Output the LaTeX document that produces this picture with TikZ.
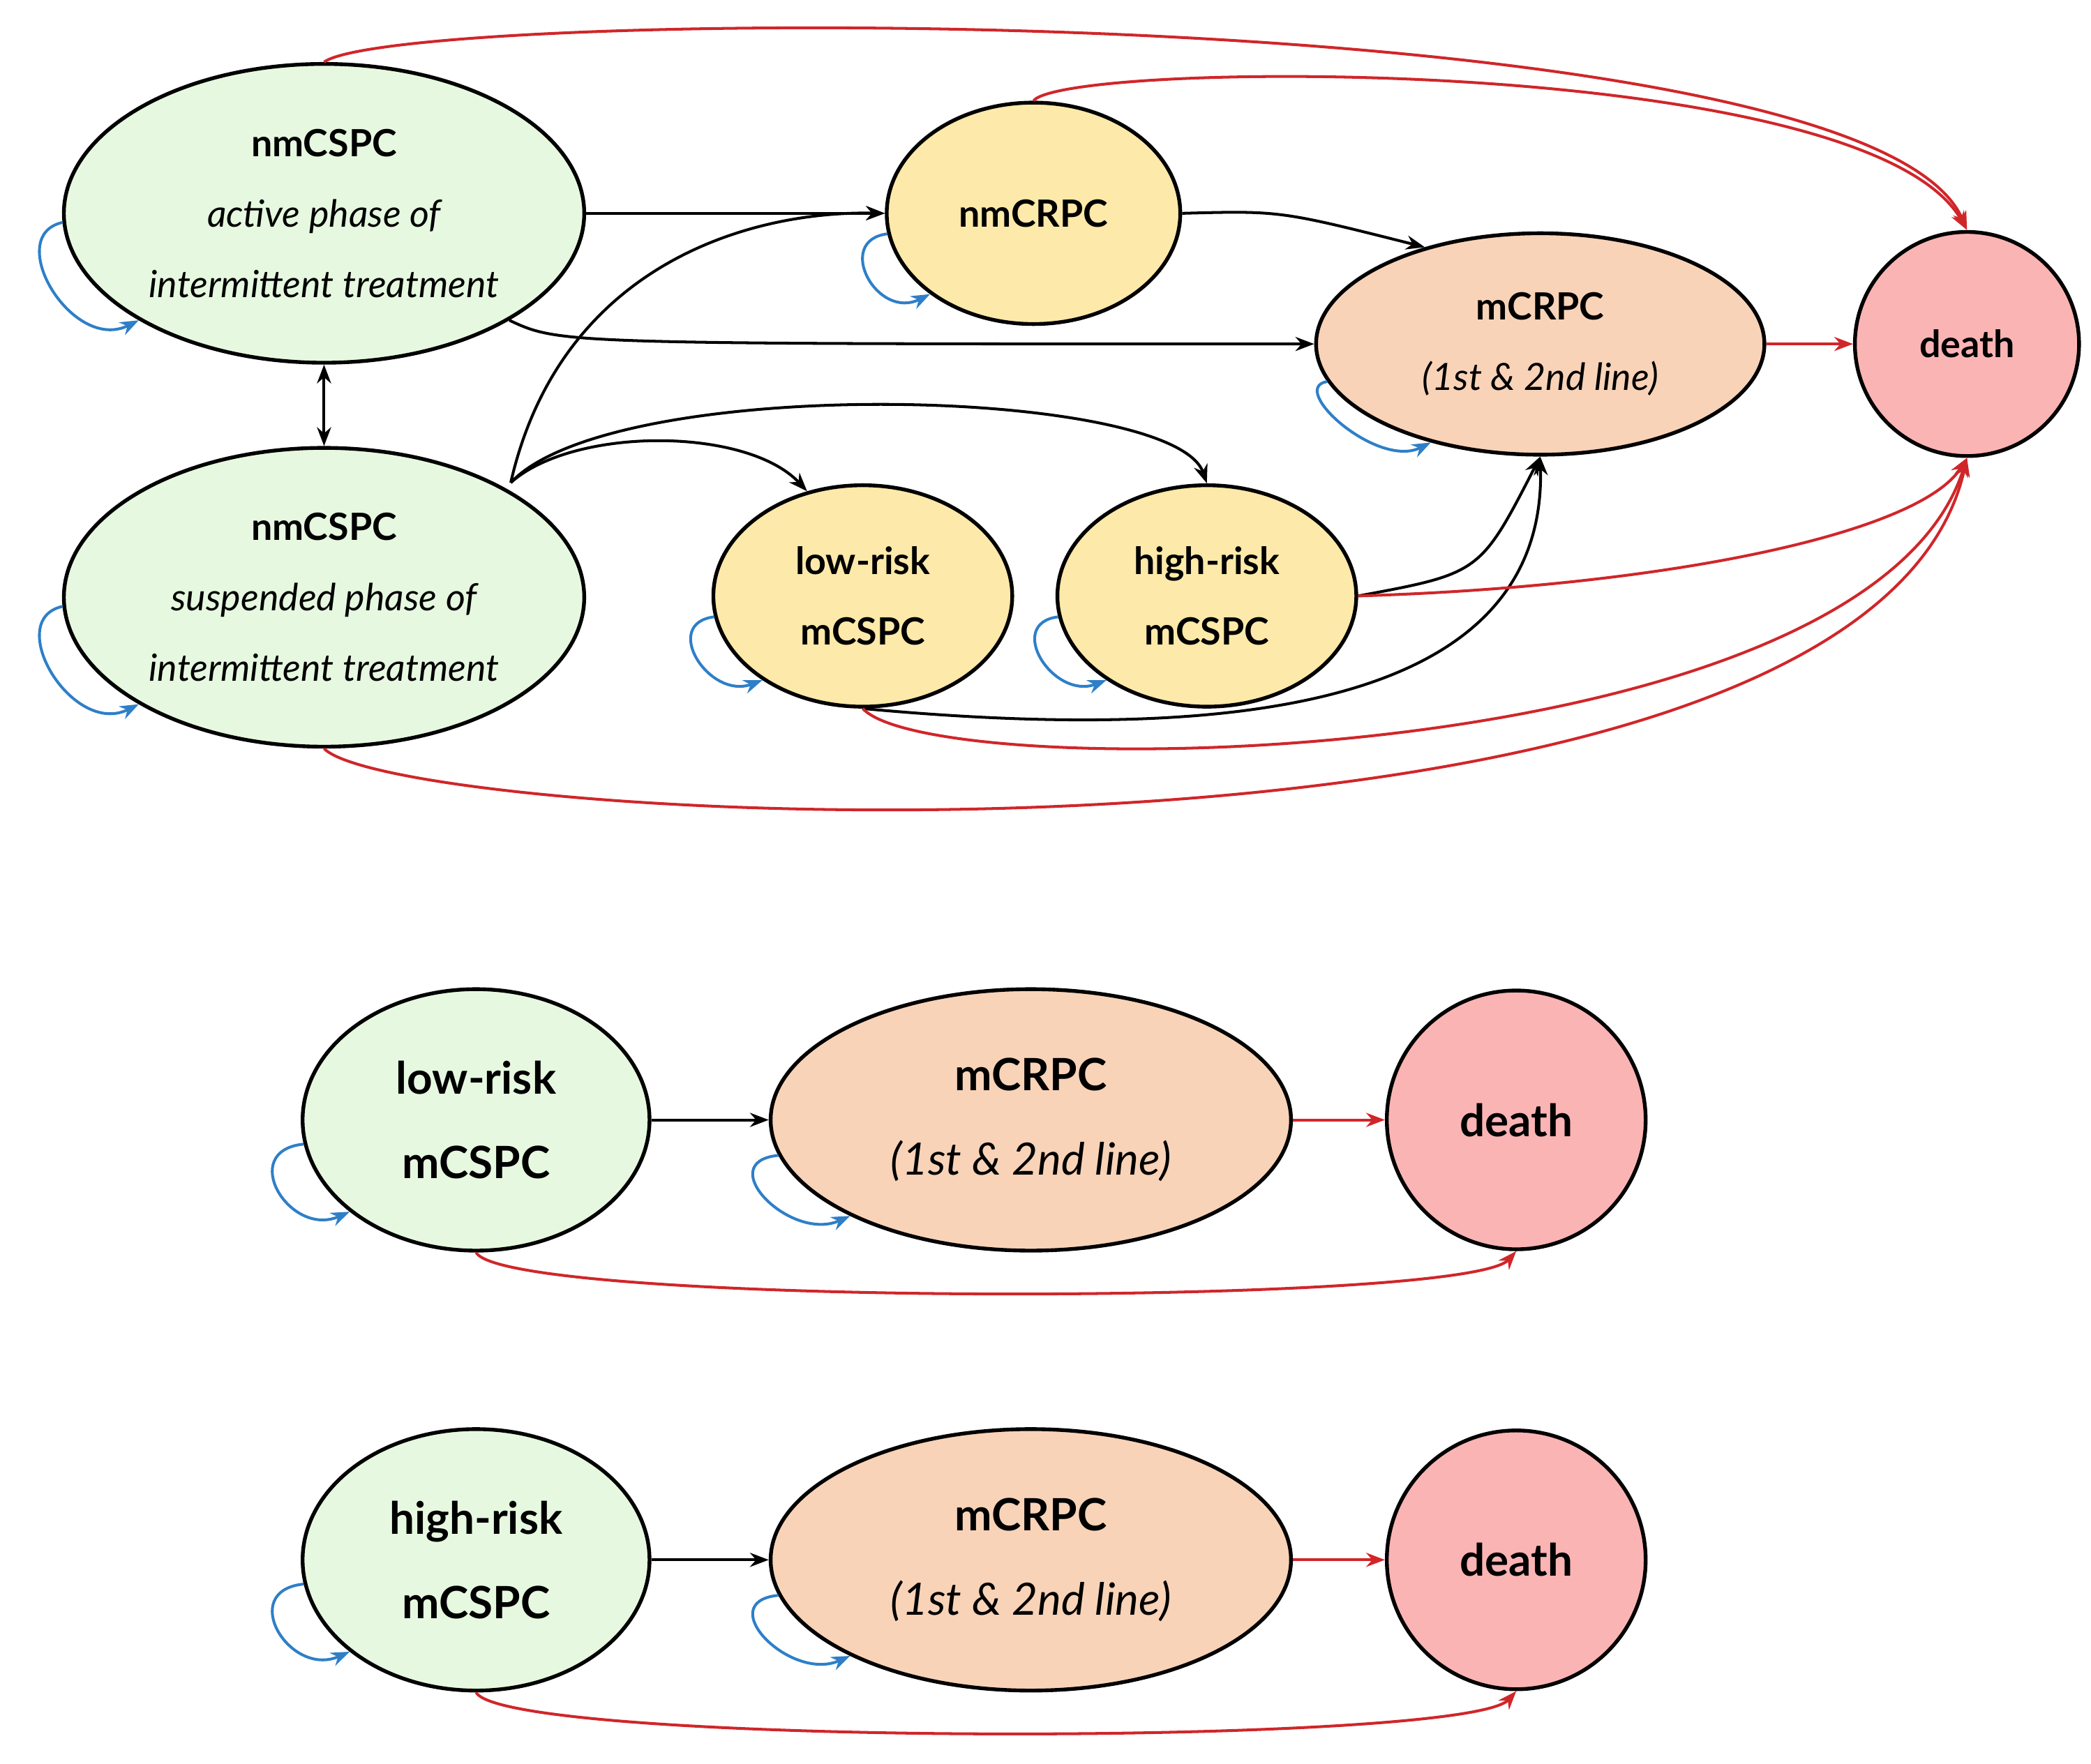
\documentclass[tikz,border=0pt]{standalone}
\usepackage{fontspec}
\setmainfont{Lato}
\usetikzlibrary{shapes.geometric,arrows.meta}
\definecolor{gr}{HTML}{E6F9E0}
\definecolor{ye}{HTML}{FDE9A9}
\definecolor{or}{HTML}{F8D3B8}
\definecolor{rd}{HTML}{FBB4B4}
\definecolor{bl}{HTML}{2E7FC8}
\definecolor{dr}{HTML}{D0262A}
\begin{document}
\begin{tikzpicture}[x=0.01cm,y=-0.01cm,
 st/.style={ellipse,draw,line width=0.8pt,inner sep=0pt,align=center,font=\bfseries\fontsize{8}{15}\selectfont},
 big/.style={font=\bfseries\fontsize{9.5}{18}\selectfont},
 e/.style={-{Stealth[length=4pt,width=3pt]},line width=0.6pt},
 rl/.style={e,dr},
 lp/.style={e,bl}]
\useasboundingbox (0,0) rectangle (1568,1323);
\node[st,fill=gr,minimum width=3.9cm,minimum height=2.24cm] (A) at (243,160) {nmCSPC\\\mdseries\itshape active phase of\\\mdseries\itshape intermittent treatment};
\node[st,fill=gr,minimum width=3.9cm,minimum height=2.24cm] (S) at (243,448) {nmCSPC\\\mdseries\itshape suspended phase of\\\mdseries\itshape intermittent treatment};
\node[st,fill=ye,minimum width=2.2cm,minimum height=1.66cm] (N) at (775,160) {nmCRPC};
\node[st,fill=or,minimum width=3.36cm,minimum height=1.66cm] (M) at (1155,258) {mCRPC\\\mdseries\itshape (1st \& 2nd line)};
\node[st,circle,fill=rd,minimum size=1.68cm] (D) at (1475,258) {death};
\node[st,fill=ye,minimum width=2.24cm,minimum height=1.66cm] (L) at (647,447) {low-risk\\mCSPC};
\node[st,fill=ye,minimum width=2.24cm,minimum height=1.66cm] (H) at (905,447) {high-risk\\mCSPC};

\draw[e] (A.east) -- (N.west);
\draw[e] (N.east) .. controls (960,158) .. (M.140);
\draw[e] (A.-30) .. controls (420,258) .. (M.west);
\draw[e,{Stealth[length=4pt,width=3pt]}-{Stealth[length=4pt,width=3pt]}] (A.south) -- (S.north);
\coordinate (s0) at (383,362);
\draw[e] (s0) .. controls (420,200) and (560,158) .. (N.west);
\draw[e] (s0) .. controls (430,320) and (560,320) .. (L.118);
\draw[e] (s0) .. controls (460,280) and (880,290) .. (H.north);
\draw[e] (H.east) .. controls (1110,430) .. (M.south);
\draw[e] (L.south) .. controls (900,555) and (1160,540) .. (M.south);
\draw[rl] (A.north) .. controls (300,5) and (1400,-5) .. (D.north);
\draw[rl] (N.north) .. controls (800,45) and (1400,40) .. (D.north);
\draw[rl] (M.east) -- (D.west);
\draw[rl] (H.east) .. controls (1250,440) and (1440,400) .. (D.south);
\draw[rl] (L.south) .. controls (700,590) and (1400,580) .. (D.south);
\draw[rl] (S.south) .. controls (300,620) and (1400,680) .. (D.south);
\draw[lp] (A.182) .. controls +(-45,10) and +(-50,25) .. (A.210);
\draw[lp] (S.182) .. controls +(-45,10) and +(-50,25) .. (S.210);
\draw[lp] (N.188) .. controls +(-40,5) and +(-40,20) .. (N.218);
\draw[lp] (M.190) .. controls +(-30,5) and +(-40,20) .. (M.222);
\draw[lp] (L.188) .. controls +(-40,5) and +(-40,15) .. (L.220);
\draw[lp] (H.188) .. controls +(-40,5) and +(-40,15) .. (H.220);

\foreach \y/\t/\k in {840/low-risk/1,1170/high-risk/2}{
\node[st,big,fill=gr,minimum width=2.6cm,minimum height=1.96cm] (BL\k) at (357,\y) {\t\\mCSPC};
\node[st,big,fill=or,minimum width=3.9cm,minimum height=1.96cm] (BM\k) at (773,\y) {mCRPC\\\mdseries\itshape (1st \& 2nd line)};
\node[st,big,circle,fill=rd,minimum size=1.94cm] (BD\k) at (1137,\y) {death};
\draw[e] (BL\k.east) -- (BM\k.west);
\draw[rl] (BM\k.east) -- (BD\k.west);
\draw[rl] (BL\k.south) .. controls (380,\y+140) and (1100,\y+140) .. (BD\k.south);
\draw[lp] (BL\k.188) .. controls +(-50,5) and +(-45,20) .. (BL\k.216);
\draw[lp] (BM\k.188) .. controls +(-50,5) and +(-45,20) .. (BM\k.208);
}
\end{tikzpicture}
\end{document}
